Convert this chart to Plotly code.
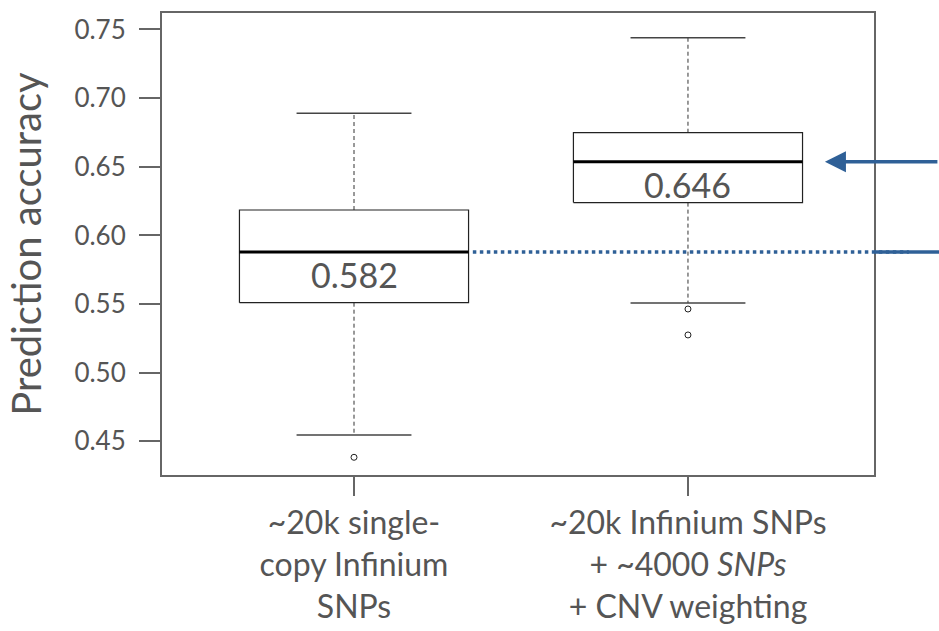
import plotly.graph_objects as go

# ---- data ----
categories = ["~20k single-<br>copy Infinium<br>SNPs",
              "~20k Infinium SNPs<br>+ ~4000 <i>SNPs</i><br>+ CNV weighting"]
positions = [1, 2]
upper_whisker = [0.689, 0.744]
q3 = [0.6185, 0.6748]
median = [0.588, 0.6537]
q1 = [0.551, 0.6239]
lower_whisker = [0.4547, 0.5508]
outliers = [[0.4384], [0.5464, 0.5275]]
mean_labels = ["0.582", "0.646"]
y_ticks = [0.45, 0.50, 0.55, 0.60, 0.65, 0.70, 0.75]

# ---- style ----
BOX_HALF = 0.343
CAP_HALF = 0.172
X_RANGE = [0.4251, 2.557]
Y_RANGE = [0.4255, 0.762]
BLUE = "#2f6097"
TXT = "#555555"
FONT = "Lato, 'Open Sans', sans-serif"

fig = go.Figure()

for i, p in enumerate(positions):
    # whiskers (dashed)
    fig.add_trace(go.Scatter(x=[p, p], y=[q3[i], upper_whisker[i]], mode="lines",
                             line=dict(color="#333", width=1, dash="4px,3px"),
                             hoverinfo="skip", showlegend=False))
    fig.add_trace(go.Scatter(x=[p, p], y=[q1[i], lower_whisker[i]], mode="lines",
                             line=dict(color="#333", width=1, dash="4px,3px"),
                             hoverinfo="skip", showlegend=False))
    # caps
    for w in (upper_whisker[i], lower_whisker[i]):
        fig.add_trace(go.Scatter(x=[p - CAP_HALF, p + CAP_HALF], y=[w, w], mode="lines",
                                 line=dict(color="#444", width=1.5),
                                 hoverinfo="skip", showlegend=False))
    # box
    fig.add_trace(go.Scatter(
        x=[p - BOX_HALF, p + BOX_HALF, p + BOX_HALF, p - BOX_HALF, p - BOX_HALF],
        y=[q1[i], q1[i], q3[i], q3[i], q1[i]], mode="lines", fill="toself",
        fillcolor="white", line=dict(color="#222", width=1.2),
        hoverinfo="skip", showlegend=False))
    # median
    fig.add_trace(go.Scatter(x=[p - BOX_HALF, p + BOX_HALF], y=[median[i], median[i]],
                             mode="lines", line=dict(color="black", width=3),
                             hoverinfo="skip", showlegend=False))
    # outliers
    fig.add_trace(go.Scatter(x=[p] * len(outliers[i]), y=outliers[i], mode="markers",
                             marker=dict(symbol="circle-open", size=6,
                                         color="#222", line=dict(width=1)),
                             hoverinfo="skip", showlegend=False))
    # label inside box
    fig.add_annotation(x=p, y=median[i], text=mean_labels[i], showarrow=False,
                       yanchor="middle", yshift=-23,
                       font=dict(family=FONT, size=34, color=TXT))

# dotted reference line from box 1 median to the right
def to_paper(x):
    return (x - X_RANGE[0]) / (X_RANGE[1] - X_RANGE[0])

fig.add_shape(type="line", xref="paper", yref="y",
              x0=to_paper(positions[0] + BOX_HALF) + 0.006, x1=1.049,
              y0=median[0], y1=median[0],
              line=dict(color=BLUE, width=3.5, dash="dot"))
fig.add_shape(type="line", xref="paper", yref="y",
              x0=1.0, x1=1.093, y0=median[0], y1=median[0],
              line=dict(color=BLUE, width=3.5))

# arrow pointing to box 2 median
fig.add_annotation(x=2.41, y=median[1], xref="x", yref="y",
                   ax=114, ay=0, axref="pixel", ayref="pixel",
                   text="", showarrow=True, arrowhead=2, arrowsize=1.2,
                   arrowwidth=3.5, arrowcolor=BLUE, standoff=0)

fig.update_layout(
    width=939, height=631,
    margin=dict(l=162, r=65, t=13, b=156),
    paper_bgcolor="white", plot_bgcolor="white",
    font=dict(family=FONT, color=TXT),
    xaxis=dict(range=X_RANGE, tickvals=positions, ticktext=categories,
               showgrid=False, zeroline=False, automargin=False,
               showline=True, mirror=True, linecolor="#666", linewidth=2,
               ticks="outside", ticklen=19, tickwidth=2, tickcolor="#666",
               ticklabelstandoff=0,
               tickfont=dict(size=32, color=TXT, family=FONT)),
    yaxis=dict(range=Y_RANGE, tickvals=y_ticks,
               ticktext=[f"{v:.2f}" for v in y_ticks],
               showgrid=False, zeroline=False,
               showline=True, mirror=True, linecolor="#666", linewidth=2,
               ticks="outside", ticklen=21, tickwidth=2, tickcolor="#666",
               ticklabelstandoff=8,
               tickfont=dict(size=26, color=TXT, family=FONT)),
)
fig.update_yaxes(title=dict(text="Prediction accuracy", standoff=20,
                            font=dict(size=40, color=TXT, family=FONT)))

fig.write_html("out.html")
